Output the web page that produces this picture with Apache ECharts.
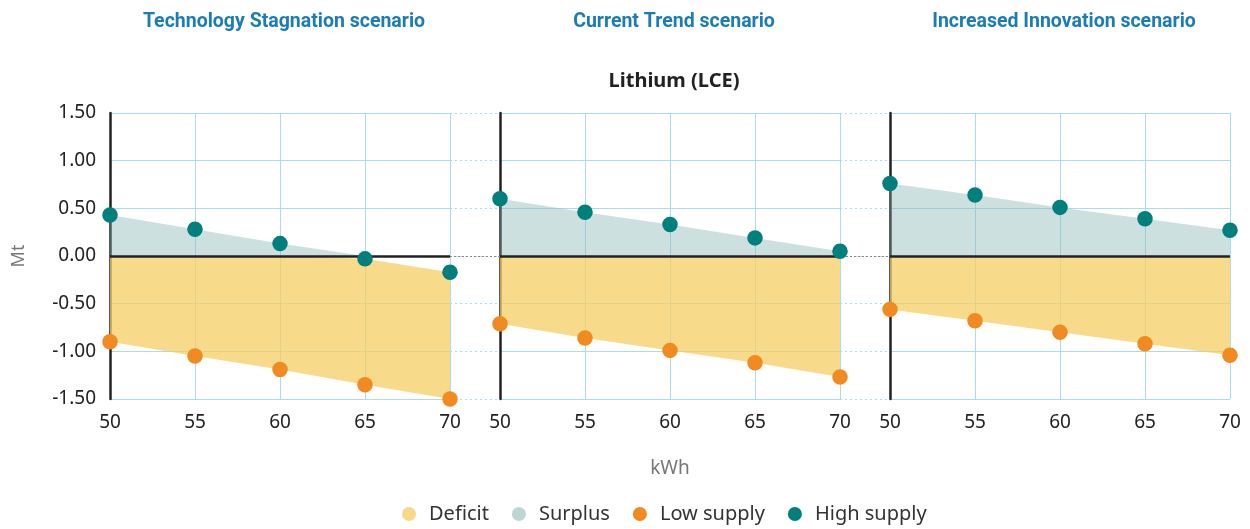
<!DOCTYPE html>
<html>
<head>
<meta charset="utf-8">
<script src="https://cdn.jsdelivr.net/npm/echarts@6/dist/echarts.min.js"></script>
<style>
  html, body { margin: 0; padding: 0; background: #fff; }
  #chart { width: 1250px; height: 529px; }
</style>
</head>
<body>
<div id="chart"></div>
<script>
// kWh per vehicle battery
const kwh = [50, 55, 60, 65, 70]
const scenarios = ['Technology Stagnation scenario', 'Current Trend scenario', 'Increased Innovation scenario']
const yTicks = [-1.5, -1, -0.5, 0, 0.5, 1, 1.5]

// Mt lithium (LCE) balance
const highStagnation = [0.43, 0.28, 0.13, -0.03, -0.17]
const lowStagnation = [-0.90, -1.05, -1.19, -1.35, -1.50]
const highCurrent = [0.60, 0.46, 0.33, 0.19, 0.05]
const lowCurrent = [-0.71, -0.86, -0.99, -1.12, -1.27]
const highInnovation = [0.76, 0.64, 0.51, 0.39, 0.27]
const lowInnovation = [-0.56, -0.68, -0.80, -0.92, -1.04]

const panels = [
  { high: highStagnation, low: lowStagnation },
  { high: highCurrent, low: lowCurrent },
  { high: highInnovation, low: lowInnovation }
]

const FONT = "'Noto Sans', sans-serif"
const NARROW = "Roboto, sans-serif"
const GRID_BLUE = '#a9dcf1'
const panelLeft = [110, 500, 890]
const panelWidth = 340
const gridTop = 113
const gridHeight = 286

const chart = echarts.init(document.getElementById('chart'))

// background grid: dotted gridlines running through the gaps between panels
const grids = [{ left: 110, width: 1120, top: gridTop, height: gridHeight }]
const xAxes = [{ gridIndex: 0, type: 'value', min: 50, max: 70, show: false }]
const yAxes = [{
  gridIndex: 0, type: 'value', min: yTicks[0], max: yTicks[yTicks.length - 1], interval: 0.5,
  axisLine: { show: false }, axisTick: { show: false }, axisLabel: { show: false },
  splitLine: { show: true, lineStyle: { color: GRID_BLUE, type: [2, 3], width: 1 } }
}]
const series = [{
  type: 'line', name: '_bg', xAxisIndex: 0, yAxisIndex: 0, data: [],
  markLine: {
    silent: true, symbol: ['none', 'none'], label: { show: false },
    lineStyle: { color: '#888', type: [2, 2], width: 1 },
    data: [{ yAxis: 0 }]
  }
}]

panels.forEach((p, i) => {
  const gi = i + 1
  grids.push({ left: panelLeft[i], width: panelWidth, top: gridTop, height: gridHeight })
  xAxes.push({
    gridIndex: gi, type: 'value', min: 50, max: 70, interval: 5,
    name: i === 1 ? 'kWh' : '', nameLocation: 'middle', nameGap: 60,
    nameTextStyle: { color: '#777', fontSize: 19, fontFamily: FONT },
    axisLine: { show: false }, axisTick: { show: false },
    axisLabel: { color: '#222', fontSize: 19, fontFamily: FONT, margin: 14 },
    splitLine: { show: true, lineStyle: { color: GRID_BLUE, width: 1 } }
  })
  yAxes.push({
    gridIndex: gi, type: 'value', min: yTicks[0], max: yTicks[yTicks.length - 1], interval: 0.5,
    name: i === 0 ? 'Mt' : '', nameLocation: 'middle', nameGap: 82, nameRotate: 90,
    nameTextStyle: { color: '#777', fontSize: 18, fontFamily: FONT },
    axisLine: { show: true, lineStyle: { color: '#222', width: 2.5 } },
    axisTick: { show: false },
    axisLabel: {
      show: i === 0, color: '#222', fontSize: 19, fontFamily: FONT, margin: 14,
      formatter: v => v.toFixed(2)
    },
    splitLine: { show: true, lineStyle: { color: GRID_BLUE, width: 1 } }
  })

  series.push({
    type: 'line', name: 'Surplus', xAxisIndex: gi, yAxisIndex: gi, z: 2,
    symbol: 'none', silent: true,
    data: kwh.map((x, j) => [x, Math.max(p.high[j], 0)]),
    lineStyle: { width: 0 },
    itemStyle: { color: '#bcd6d5' },
    areaStyle: { color: 'rgba(135,182,181,0.6)' },
    markLine: {
      silent: true, symbol: ['none', 'none'], label: { show: false },
      lineStyle: { color: '#222', type: 'solid', width: 2.5 },
      data: [{ yAxis: 0 }], z: 5
    }
  })
  // deficit band: from low supply up to min(high supply, 0)
  series.push({
    type: 'custom', name: 'Deficit', xAxisIndex: gi, yAxisIndex: gi, z: 2,
    silent: true,
    itemStyle: { color: '#f7d98b' },
    data: [[kwh[0], 0]],
    renderItem: (params, api) => {
      const lower = kwh.map((x, j) => api.coord([x, p.low[j]]))
      const upper = kwh.map((x, j) => api.coord([x, Math.min(p.high[j], 0)])).reverse()
      return {
        type: 'polygon',
        shape: { points: lower.concat(upper) },
        style: { fill: 'rgba(245,205,100,0.75)' }
      }
    }
  })
  series.push({
    type: 'scatter', name: 'Low supply', xAxisIndex: gi, yAxisIndex: gi, z: 6,
    symbolSize: 15.5, itemStyle: { color: '#f18a21', opacity: 1 },
    data: kwh.map((x, j) => [x, p.low[j]])
  })
  series.push({
    type: 'scatter', name: 'High supply', xAxisIndex: gi, yAxisIndex: gi, z: 6,
    symbolSize: 15.5, itemStyle: { color: '#007f7c', opacity: 1 },
    data: kwh.map((x, j) => [x, p.high[j]])
  })
})

const titles = scenarios.map((s, i) => ({
  text: s, left: panelLeft[i] + panelWidth / 2 - 1, top: 7, textAlign: 'center',
  textStyle: { color: '#1a7db5', fontSize: 19.5, fontWeight: 'bold', fontFamily: NARROW }
}))
titles.push({
  text: 'Lithium (LCE)', left: 669, top: 66, textAlign: 'center',
  textStyle: { color: '#222', fontSize: 20, fontWeight: 'bold', fontFamily: FONT }
})

chart.setOption({
  animation: false,
  title: titles,
  grid: grids,
  xAxis: xAxes,
  yAxis: yAxes,
  legend: {
    data: ['Deficit', 'Surplus', 'Low supply', 'High supply'],
    top: 499, left: 397, icon: 'circle',
    itemWidth: 30, itemHeight: 14, itemGap: 23,
    textStyle: { color: '#333', fontSize: 20, fontFamily: FONT }
  },
  series
})
</script>
</body>
</html>
